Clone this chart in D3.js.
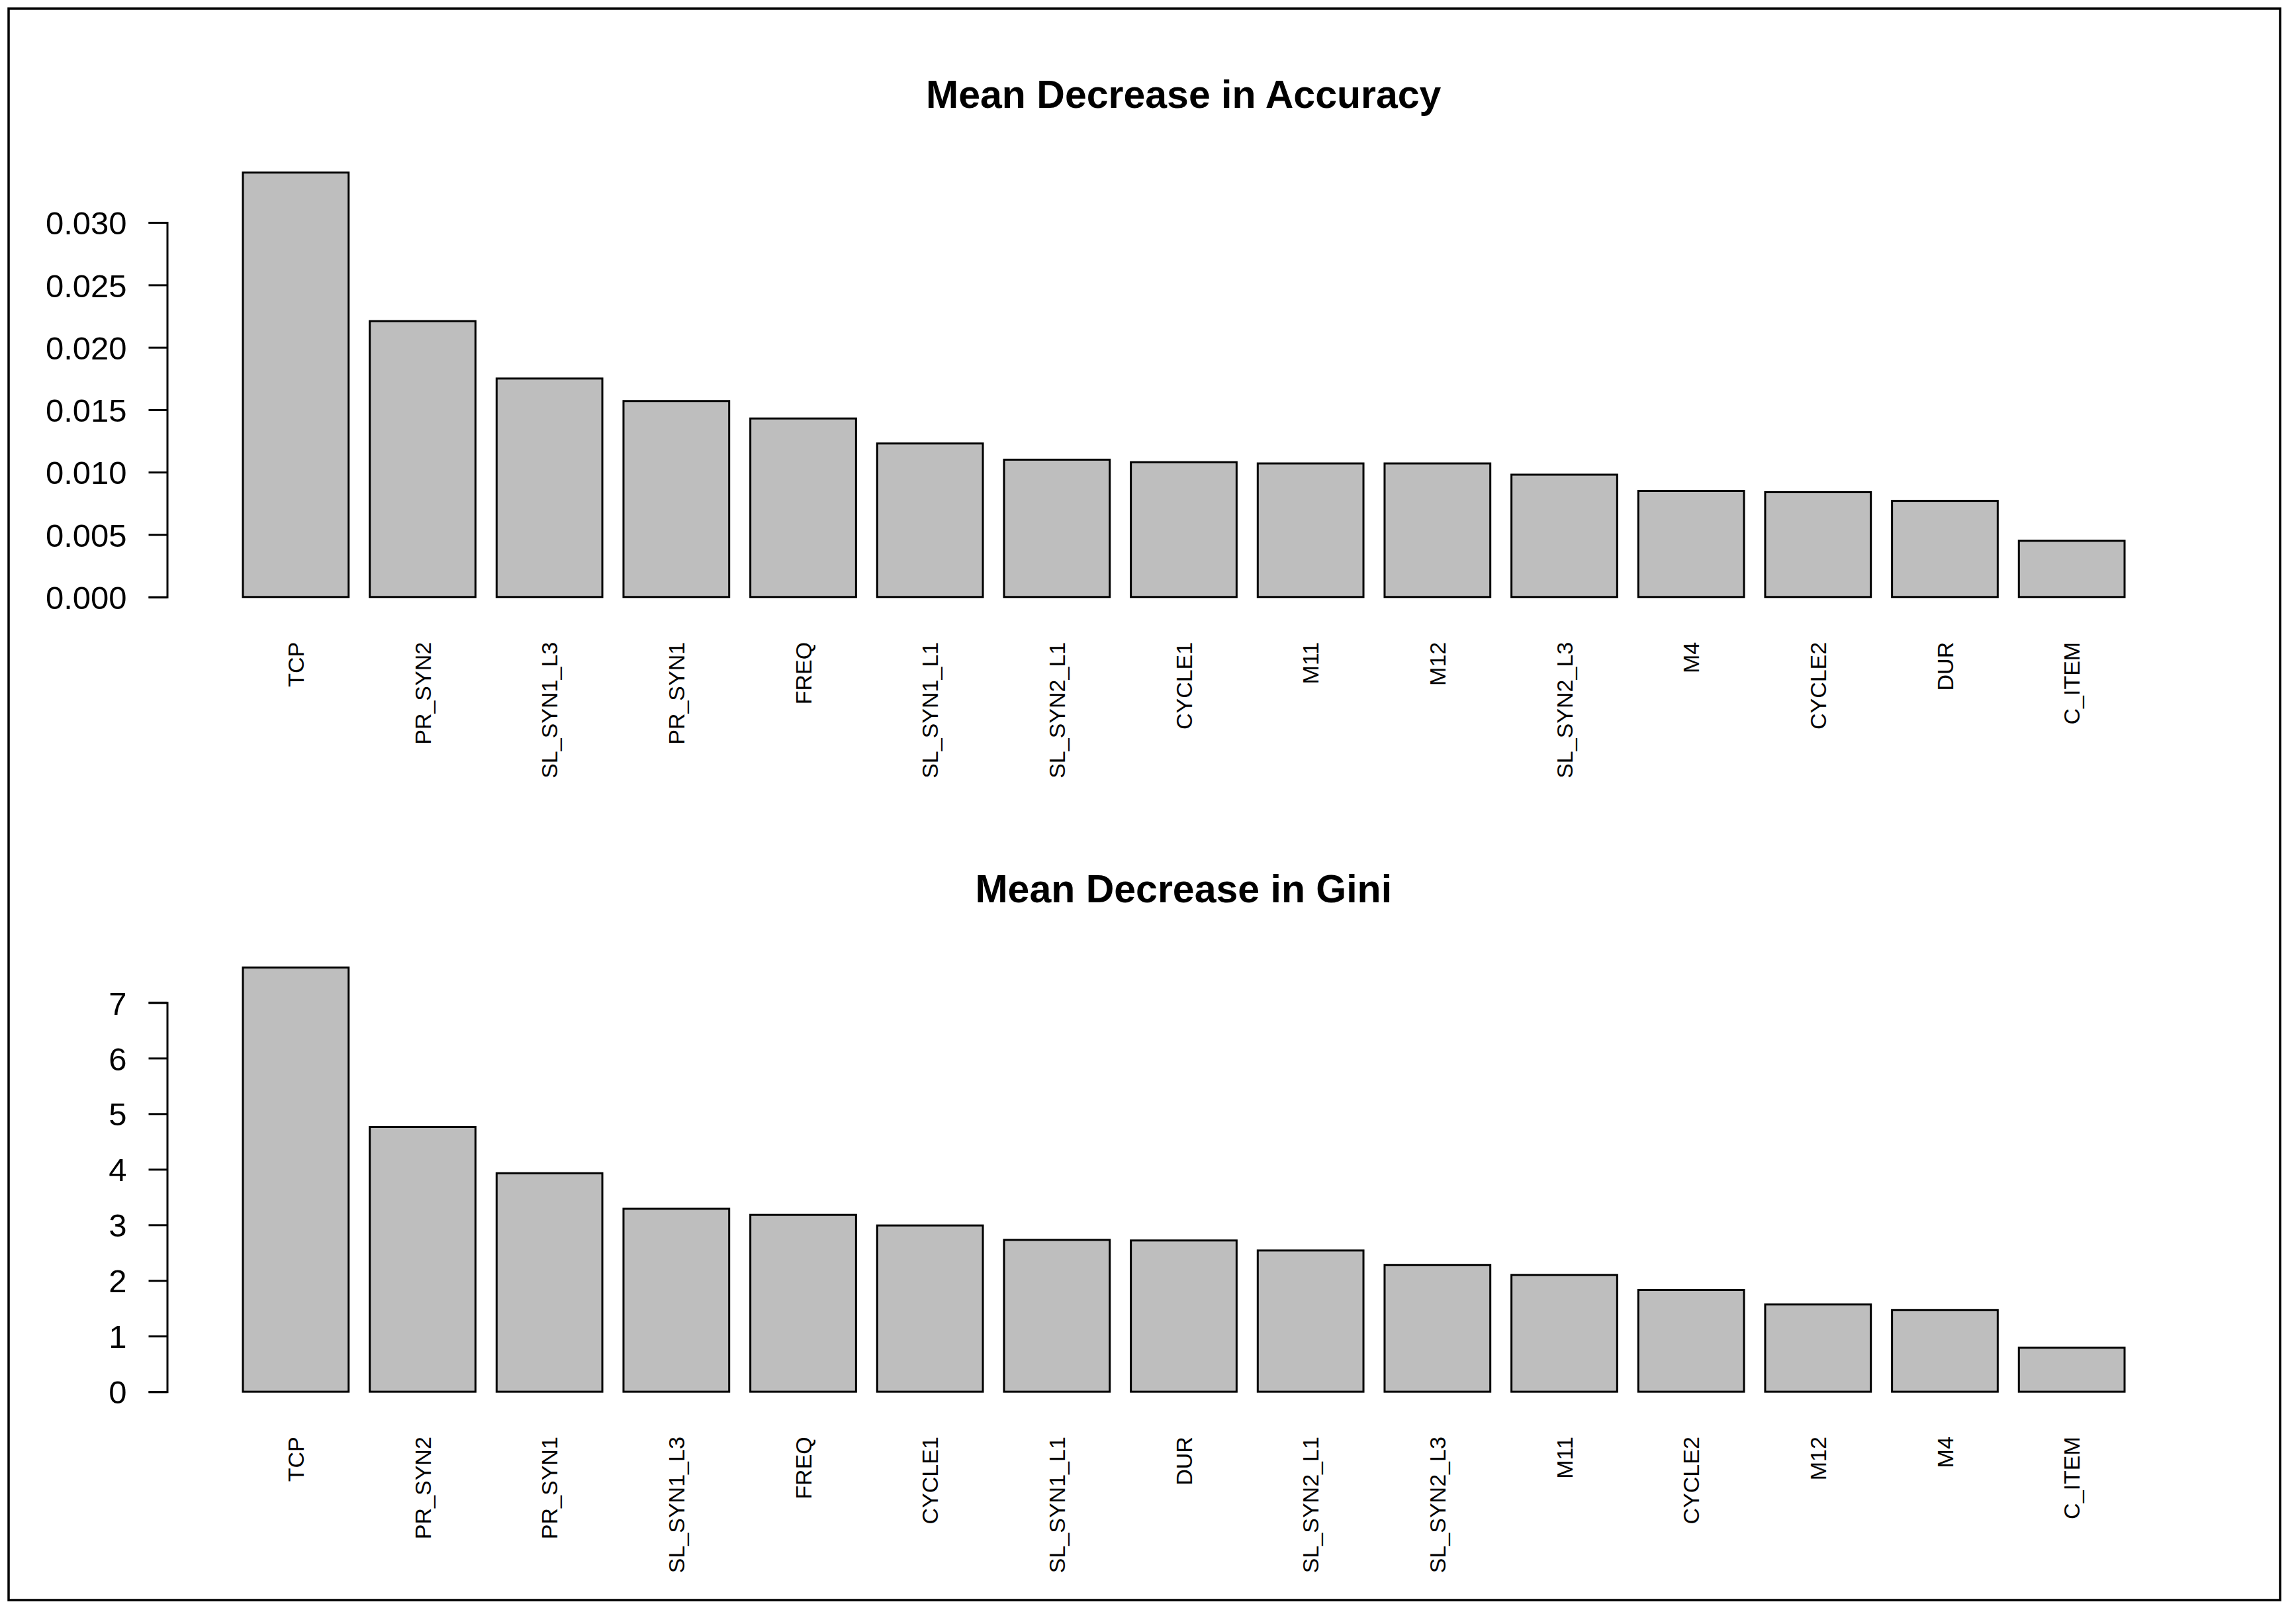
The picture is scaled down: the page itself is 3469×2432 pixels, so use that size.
<!DOCTYPE html>
<html lang="en">
<head>
<meta charset="UTF-8">
<title>Variable Importance</title>
<style>
body { margin: 0; background: #fff; }
text { font-family: "Liberation Sans", Arial, sans-serif; fill: #000; }
.title { font-size: 59px; font-weight: bold; }
.tick text { font-size: 49px; }
.name { font-size: 34px; }
.bar { fill: #bebebe; stroke: #000; stroke-width: 3; }
</style>
</head>
<body>
<svg width="3469" height="2432"></svg>
<script src="https://d3js.org/d3.v7.min.js"></script>
<script>

var accNames = ["TCP", "PR_SYN2", "SL_SYN1_L3", "PR_SYN1", "FREQ", "SL_SYN1_L1", "SL_SYN2_L1",
    "CYCLE1", "M11", "M12", "SL_SYN2_L3", "M4", "CYCLE2", "DUR", "C_ITEM"];
var accValues = [0.0340, 0.0221, 0.0175, 0.0157, 0.0143, 0.0123, 0.0110,
    0.0108, 0.0107, 0.0107, 0.0098, 0.0085, 0.0084, 0.0077, 0.0045];
var accTicks = [0, 0.005, 0.010, 0.015, 0.020, 0.025, 0.030];

var giniNames = ["TCP", "PR_SYN2", "PR_SYN1", "SL_SYN1_L3", "FREQ", "CYCLE1", "SL_SYN1_L1",
    "DUR", "SL_SYN2_L1", "SL_SYN2_L3", "M11", "CYCLE2", "M12", "M4", "C_ITEM"];
var giniValues = [7.63, 4.76, 3.93, 3.29, 3.18, 2.99, 2.73,
    2.72, 2.54, 2.28, 2.10, 1.83, 1.57, 1.47, 0.79];
var giniTicks = [0, 1, 2, 3, 4, 5, 6, 7];

var svg = d3.select("svg");

// outer frame
svg.append("rect")
    .attr("x", 13).attr("y", 13)
    .attr("width", 3445 - 13).attr("height", 2417 - 13)
    .attr("fill", "none").attr("stroke", "#000").attr("stroke-width", 3.5);

var plotLeft = 252.5, plotRight = 3324, titleX = (plotLeft + plotRight) / 2;

function drawPanel(top, title, names, values, ticks, fmt, tickPx) {
    // tickPx: pixel length of the axis from 0 to its last tick
    var g = svg.append("g").attr("transform", "translate(0," + top + ")");
    var base = 901.8;

    var x = d3.scaleBand()
        .domain(names)
        .range([367, 3210])
        .paddingInner(1 / 6)
        .paddingOuter(0);

    var y = d3.scaleLinear()
        .domain([0, ticks[ticks.length - 1]])
        .range([base, base - tickPx]);

    g.append("text")
        .attr("class", "title")
        .attr("x", titleX)
        .attr("y", 163)
        .attr("text-anchor", "middle")
        .text(title);

    g.selectAll(".bar")
        .data(values)
        .enter()
        .append("rect")
        .attr("class", "bar")
        .attr("x", function(d, i) { return x(names[i]); })
        .attr("width", x.bandwidth())
        .attr("y", function(d) { return y(d); })
        .attr("height", function(d) { return y(0) - y(d); });

    var axis = g.append("g")
        .attr("transform", "translate(" + plotLeft + ",0)")
        .call(d3.axisLeft(y).tickValues(ticks).tickFormat(fmt).tickSizeOuter(0).tickSize(28).tickPadding(33));
    axis.select(".domain").attr("stroke-width", 3);
    axis.selectAll(".tick line").attr("stroke-width", 3);
    axis.selectAll(".tick text").attr("font-family", null).attr("font-size", null).attr("dy", "0.36em");

    g.selectAll(".name")
        .data(names)
        .enter()
        .append("text")
        .attr("class", "name")
        .attr("transform", function(d) {
            return "translate(" + (x(d) + x.bandwidth() / 2) + "," + (base + 68) + ") rotate(-90)";
        })
        .attr("text-anchor", "end")
        .attr("dy", "0.36em")
        .text(function(d) { return d; });
}

drawPanel(0, "Mean Decrease in Accuracy", accNames, accValues, accTicks, d3.format(".3f"), 901.8 - 336.1);
drawPanel(1200.4, "Mean Decrease in Gini", giniNames, giniValues, giniTicks, d3.format("d"), 2102.2 - 1514.4);

</script>
</body>
</html>
